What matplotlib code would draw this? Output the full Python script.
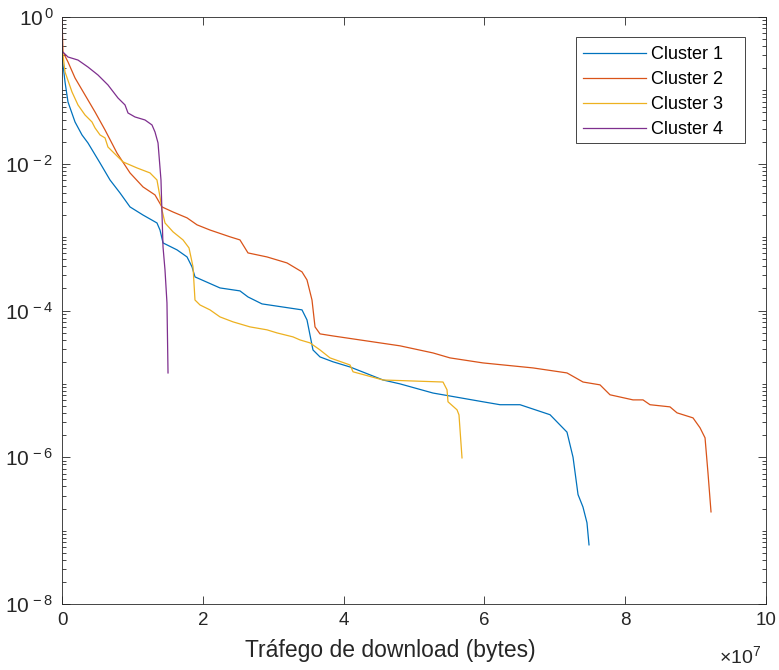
import numpy as np
import matplotlib
matplotlib.use("Agg")
import matplotlib.pyplot as plt
from matplotlib.patches import Rectangle
from matplotlib.ticker import FixedLocator, LogLocator, NullFormatter, FuncFormatter

plt.rcParams['font.family'] = ['Liberation Sans', 'DejaVu Sans']
plt.rcParams['mathtext.fontset'] = 'custom'
plt.rcParams['mathtext.rm'] = 'Liberation Sans'
plt.rcParams['mathtext.it'] = 'Liberation Sans'
plt.rcParams['mathtext.bf'] = 'Liberation Sans'

labels = ["Cluster 1", "Cluster 2", "Cluster 3", "Cluster 4"]
colors = ["#0072BD", "#D95319", "#EDB120", "#7E2F8E"]

# x in units of 1e7 bytes
c1_x = [0, 0.004, 0.043, 0.085, 0.185, 0.284, 0.369, 0.540, 0.682, 0.824, 0.966, 1.151,
        1.349, 1.392, 1.435, 1.634, 1.776, 1.847, 1.889,
        2.244, 2.528, 2.642, 2.841, 3.409, 3.480, 3.565, 3.665, 3.849, 4.091, 4.560,
        4.801, 5.270, 5.980, 6.222, 6.506, 6.932, 7.173, 7.259, 7.33, 7.40, 7.457, 7.486]
c1_y = [1.0, 0.27, 0.130, 0.0695, 0.0371, 0.0247, 0.0192, 0.01025, 0.00601, 0.0040,
        0.00258, 0.0020, 0.00156, 0.00125, 0.000834, 0.00067, 0.000537, 0.000393,
        0.000287, 0.000203, 0.000185, 0.000153, 0.000123, 0.000102, 7.44e-5,
        2.9e-5, 2.33e-5, 2.0e-5, 1.7e-5, 1.13e-5, 1.0e-5, 7.5e-6, 5.7e-6, 5.2e-6, 5.2e-6,
        3.8e-6, 2.2e-6, 1.0e-6, 3.1e-7, 2.1e-7, 1.28e-7, 6.4e-8]

c2_x = [0, 0.014, 0.085, 0.185, 0.327, 0.469, 0.611, 0.781, 0.966, 1.151, 1.321, 1.420,
        1.577, 1.776, 1.918, 2.102, 2.386, 2.528, 2.642, 2.912, 3.196, 3.409, 3.480,
        3.551, 3.594, 3.665, 3.849, 4.233, 4.801, 5.270, 5.511, 5.980, 6.690, 7.173,
        7.401, 7.642, 7.784, 8.111, 8.253, 8.352, 8.636, 8.736, 8.963, 9.063, 9.134,
        9.176, 9.219]
c2_y = [1.0, 0.334, 0.244, 0.1476, 0.0866, 0.0508, 0.0289, 0.0140, 0.0075, 0.00483,
        0.00376, 0.00258, 0.0022, 0.00183, 0.00147, 0.00125, 0.00101, 0.000916,
        0.000609, 0.000537, 0.000445, 0.000336, 0.000261, 0.000139, 5.98e-5, 4.8e-5,
        4.5e-5, 3.97e-5, 3.3e-5, 2.64e-5, 2.26e-5, 1.93e-5, 1.65e-5, 1.41e-5, 1.06e-5,
        9.7e-6, 7.1e-6, 6.05e-6, 6.05e-6, 5.2e-6, 4.86e-6, 4.03e-6, 3.44e-6, 2.52e-6,
        1.84e-6, 6.1e-7, 1.8e-7]

c3_x = [0, 0.003, 0.043, 0.142, 0.227, 0.327, 0.426, 0.469, 0.540, 0.611, 0.653, 0.866,
        1.065, 1.250, 1.349, 1.392, 1.420, 1.463, 1.577, 1.719, 1.804, 1.861, 1.889,
        1.960, 2.102, 2.244, 2.429, 2.670, 2.912, 3.054, 3.281, 3.381, 3.523, 3.665,
        3.807, 4.091, 4.134, 4.560, 5.412, 5.469, 5.483, 5.611, 5.639, 5.682]
c3_y = [1.0, 0.378, 0.178, 0.0951, 0.0633, 0.0462, 0.0371, 0.0308, 0.0247, 0.0225,
        0.0169, 0.0106, 0.00877, 0.0075, 0.00601, 0.00353, 0.00235, 0.00156, 0.00118,
        0.000916, 0.000713, 0.000393, 0.000139, 0.000119, 0.000102, 8.18e-5, 7.0e-5,
        5.98e-5, 5.45e-5, 4.95e-5, 4.37e-5, 3.97e-5, 3.62e-5, 2.9e-5, 2.26e-5, 1.81e-5,
        1.46e-5, 1.13e-5, 1.06e-5, 8.3e-6, 5.7e-6, 4.43e-6, 3.78e-6, 9.8e-7]

c4_x = [0, 0.003, 0.085, 0.227, 0.369, 0.511, 0.653, 0.795, 0.895, 0.9375, 1.037, 1.179,
        1.278, 1.321, 1.364, 1.406, 1.420, 1.435, 1.463, 1.491, 1.506]
c4_y = [1.0, 0.34, 0.285, 0.259, 0.208, 0.162, 0.1185, 0.0788, 0.0633, 0.0492, 0.0434,
        0.0395, 0.0338, 0.0271, 0.0192, 0.00601, 0.00214, 0.000735, 0.000357, 0.000127,
        1.41e-5]

series_x = [c1_x, c2_x, c3_x, c4_x]
series_y = [c1_y, c2_y, c3_y, c4_y]

x_scale = 1e7
yticks = [1e-8, 1e-6, 1e-4, 1e-2, 1e0]
xticks = [0, 2, 4, 6, 8, 10]

axcol = "#262626"
W, H = 779, 670
fig = plt.figure(figsize=(W / 100, H / 100), dpi=100)
ax = fig.add_axes([62 / W, 66 / H, (766 - 62) / W, (604 - 17) / H])
AW, AH = 704, 587


def axx(px):
    return (px - 62) / AW


def axy(py):
    return 1 - (py - 17) / AH


for xs, ys, lab, col in zip(series_x, series_y, labels, colors):
    ax.plot(np.array(xs) * x_scale, ys, color=col, lw=0.9, label=lab)

ax.set_yscale("log")
ax.set_xlim(0, 10 * x_scale)
ax.set_ylim(1e-8, 1e0)
ax.yaxis.set_major_locator(FixedLocator(yticks))
ax.yaxis.set_major_formatter(FuncFormatter(
    lambda v, p: r"$10^{\,%d}$" % int(round(np.log10(v)))))
ax.yaxis.set_minor_locator(LogLocator(base=10, subs=np.arange(1, 10), numticks=100))
ax.yaxis.set_minor_formatter(NullFormatter())
ax.set_xticks([t * x_scale for t in xticks])
ax.xaxis.set_major_formatter(FuncFormatter(lambda v, p: "%g" % (v / x_scale)))

ax.tick_params(which="both", direction="in", top=True, right=True, colors=axcol,
               labelcolor=axcol)
ax.tick_params(which="major", length=5.5, width=0.6)
ax.tick_params(which="minor", length=3, width=0.6)
ax.tick_params(axis="x", pad=6, labelsize=13.5)
ax.tick_params(axis="y", pad=6, labelsize=15)
for s in ax.spines.values():
    s.set_color(axcol)
    s.set_linewidth(0.6)

ax.set_xlabel("Tráfego de download (bytes)", fontsize=16.5, color=axcol)
ax.xaxis.set_label_coords(axx(390), axy(639), transform=ax.transAxes)
ax.xaxis.label.set_va("top")
ax.text(axx(761), axy(663), r"$\times10^{7}$", transform=ax.transAxes, ha="right",
        va="baseline", fontsize=14, color=axcol)

# legend box (MATLAB style, extra right padding)
ax.add_patch(Rectangle((axx(576), axy(143)), axx(745) - axx(576), axy(37) - axy(143),
                       transform=ax.transAxes, facecolor="white", edgecolor=axcol,
                       lw=0.6, zorder=4.9))
leg = ax.legend(loc="upper left", bbox_to_anchor=(axx(583), axy(46)),
                bbox_transform=ax.transAxes, fontsize=13, frameon=False,
                handlelength=3.5, handletextpad=0.28, borderpad=0, labelspacing=0.45,
                borderaxespad=0)
leg.set_zorder(5)
for t in leg.get_texts():
    t.set_color("black")

fig.savefig("out.png", dpi=100)
